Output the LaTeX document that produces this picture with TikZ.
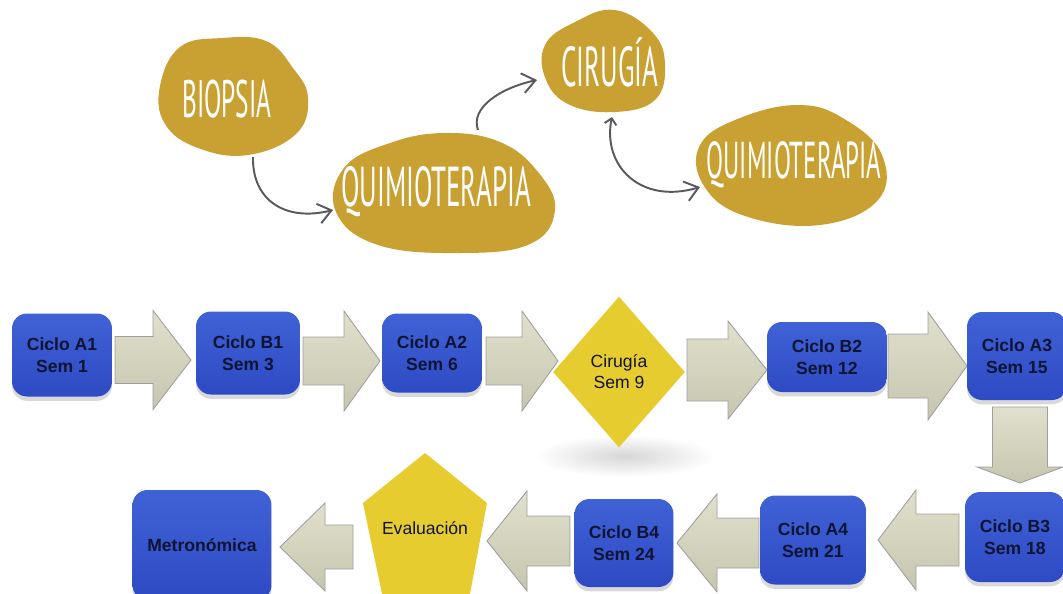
\documentclass[tikz,border=0pt]{standalone}
\usepackage{fontspec}
\newfontfamily\boxfont{Liberation Sans}
\newfontfamily\blobfont[FakeStretch=0.48]{PT Sans}
\usetikzlibrary{shapes.geometric,shadows,arrows.meta}

\definecolor{blobgold}{RGB}{201,161,50}
\definecolor{boxtop}{RGB}{64,98,214}
\definecolor{boxbot}{RGB}{46,74,196}
\definecolor{boxtext}{RGB}{14,20,50}
\definecolor{stepyellow}{RGB}{230,204,46}
\definecolor{arrowtop}{RGB}{224,224,204}
\definecolor{arrowbot}{RGB}{198,198,176}
\definecolor{sketchgray}{RGB}{88,88,94}

\tikzset{
  pics/blockarrow/.style args={#1/#2/#3/#4}{code={
    \path[barrow] (0,-#2) -- (#1-#4,-#2) -- (#1-#4,-#3) -- (#1,0)
      -- (#1-#4,#3) -- (#1-#4,#2) -- (0,#2) -- cycle;
  }}
}

\begin{document}
\begin{tikzpicture}[x=0.02cm, y=-0.02cm,
    blob/.style={fill=blobgold},
    blobtext/.style={text=white, font=\blobfont\fontsize{#1}{#1}\selectfont},
    blobtext/.default=32,
    sketch/.style={-{Straight Barb[length=2.6mm,width=4mm]}, line width=1.1pt, draw=sketchgray},
    cycbox/.style={rounded corners=0.3cm, top color=boxtop, bottom color=boxbot,
      text=boxtext, align=center, inner sep=0pt,
      font=\boxfont\bfseries\fontsize{10}{12.5}\selectfont,
      drop shadow={opacity=0.3, shadow xshift=0pt, shadow yshift=-2.5pt}},
    milestone/.style={fill=stepyellow, text=boxtext, align=center, inner sep=0pt,
      font=\boxfont\fontsize{10}{12}\selectfont},
    barrow/.style={draw=gray!75, line width=0.5pt, top color=arrowtop, bottom color=arrowbot}
]
\useasboundingbox (0,0) rectangle (1063,593);

% Blobs
\fill[blob] plot[smooth cycle, tension=0.7] coordinates
  {(180,47) (222,38) (266,41) (293,68) (308,98) (296,134) (248,155) (198,148) (165,124) (160,86)};
\fill[blob] plot[smooth cycle, tension=0.7] coordinates
  {(390,143) (445,133) (500,142) (538,172) (555,210) (530,244) (460,253) (378,245) (336,212) (344,168)};
\fill[blob] plot[smooth cycle, tension=0.7] coordinates
  {(575,22) (615,10) (653,33) (665,65) (655,100) (615,112) (570,105) (546,80) (545,45)};
\fill[blob] plot[smooth cycle, tension=0.7] coordinates
  {(740,118) (800,105) (846,120) (882,155) (878,200) (820,225) (745,216) (704,186) (700,145)};

\node[blobtext=30] (biopsia) at (227,99) {BIOPSIA};
\node[blobtext] (quimio1) at (436,192) {QUIMIOTERAPIA};
\node[blobtext] (cirugia) at (610,62) {CIRUGÍA};
\node[blobtext=29.5] (quimio2) at (794,165) {QUIMIOTERAPIA};

% Sketch arrows
\coordinate (bioOut) at (253,157);
\coordinate (q1In) at (333,210);
\coordinate (q1Out) at (478,130);
\coordinate (cirIn) at (537,80);
\coordinate (cirOut) at (612,117);
\coordinate (q2In) at (700,187);
\draw[sketch] (bioOut) .. controls (252,200) and (285,222) .. (q1In);
\draw[sketch] (q1Out) .. controls (470,108) and (500,88) .. (cirIn);
\draw[sketch, {Straight Barb[length=1.2mm,width=2.4mm]}-{Straight Barb[length=2.6mm,width=4mm]}]
  (cirOut) .. controls (602,165) and (640,205) .. (q2In);

% Shadow under the surgery step
\shade[inner color=black!16, outer color=white] (625,456) ellipse [x radius=1.8cm, y radius=0.42cm];

% Block arrows
\pic at (115,360) {blockarrow={76/23.5/49.5/38}};
\pic at (303,361) {blockarrow={77/24/50/36}};
\pic at (486,361) {blockarrow={72/24/50/36}};
\pic at (687,370) {blockarrow={80/31/49/39}};
\pic at (888,366) {blockarrow={79/32/54/39}};
\pic[rotate=-90] at (1020,407) {blockarrow={76/27.5/43/16}};
\pic[rotate=180] at (959,540) {blockarrow={81/26/50/38}};
\pic[rotate=180] at (759,543) {blockarrow={82/25/49/40}};
\pic[rotate=180] at (570,541) {blockarrow={83/25/50/40}};
\pic[rotate=180] at (353,547) {blockarrow={73/22/44/45}};

% Row 1
\node[cycbox, minimum width=2cm, minimum height=1.66cm] (A1) at (62,355) {Ciclo A1\\Sem 1};
\node[cycbox, minimum width=2.08cm, minimum height=1.66cm] (B1) at (248,353) {Ciclo B1\\Sem 3};
\node[cycbox, minimum width=2cm, minimum height=1.58cm] (A2) at (432,353) {Ciclo A2\\Sem 6};
\node[milestone, diamond, minimum width=2.64cm, minimum height=3.02cm] (S9) at (619,372) {Cirugía\\Sem 9};
\node[cycbox, minimum width=2.4cm, minimum height=1.4cm] (B2) at (827,357) {Ciclo B2\\Sem 12};
\node[cycbox, minimum width=2cm, minimum height=1.76cm] (A3) at (1017,356) {Ciclo A3\\Sem 15};

% Row 2
\node[cycbox, minimum width=2cm, minimum height=1.8cm] (B3) at (1015,537) {Ciclo B3\\Sem 18};
\node[cycbox, minimum width=2.12cm, minimum height=1.78cm] (A4) at (813,540) {Ciclo A4\\Sem 21};
\node[cycbox, minimum width=1.98cm, minimum height=1.76cm] (B4) at (624,543) {Ciclo B4\\Sem 24};
\fill[stepyellow] (425,453) -- (487,503) -- (470,594) -- (382,594) -- (363,503) -- cycle;
\node[milestone, fill=none] (Eval) at (425,528) {Evaluación};
\node[cycbox, minimum width=2.78cm, minimum height=2.2cm] (Met) at (202,545) {Metronómica};

\end{tikzpicture}
\end{document}
